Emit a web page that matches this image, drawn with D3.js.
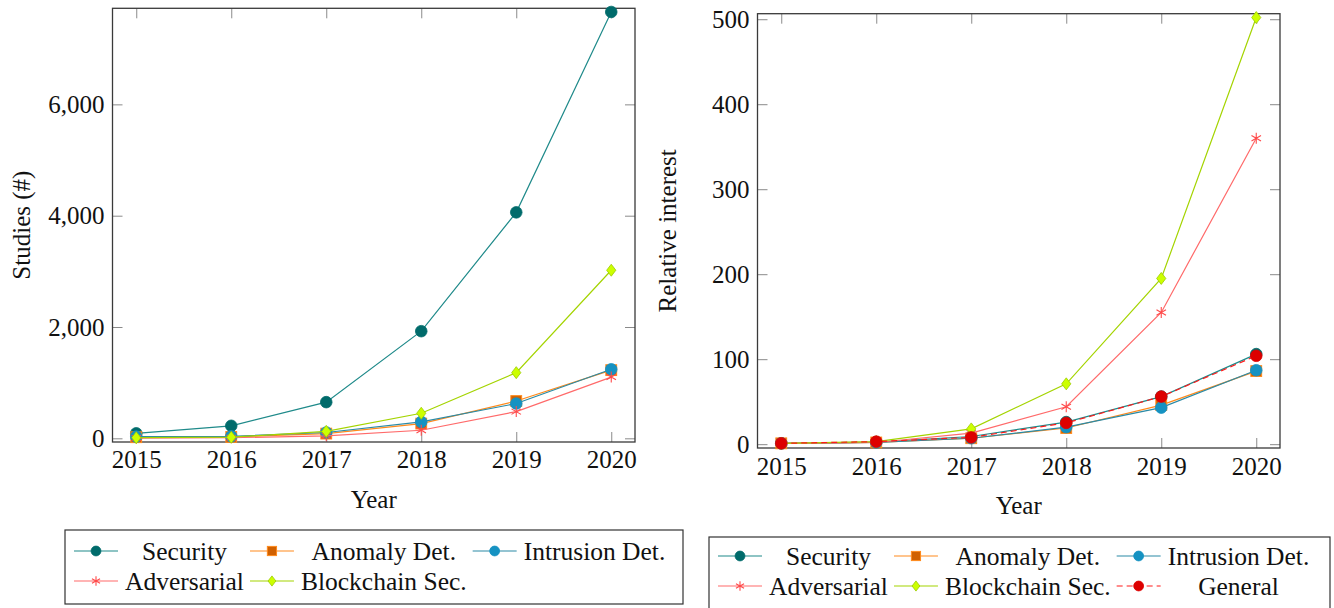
<!DOCTYPE html>
<html>
<head>
<meta charset="utf-8">
<script src="https://cdn.jsdelivr.net/npm/d3@7"></script>
<style>
  html, body { margin: 0; padding: 0; background: #fff; }
  svg { display: block; font-family: "Liberation Serif", "Times New Roman", serif; }
  .tick text { font-family: "Liberation Serif", "Times New Roman", serif; font-size: 25px; fill: #111; }
</style>
</head>
<body>
<svg id="chart" width="1334" height="608"></svg>
<script>
const years = [2015, 2016, 2017, 2018, 2019, 2020];

// left panel: number of studies
const securityStudies = [90, 225, 650, 1925, 4060, 7660];
const anomalyStudies = [20, 25, 85, 265, 670, 1225];
const intrusionStudies = [30, 35, 105, 295, 625, 1240];
const adversarialStudies = [5, 10, 45, 145, 480, 1100];
const blockchainStudies = [12, 20, 125, 450, 1180, 3020];

// right panel: relative interest
const securityInterest = [1, 2.5, 9, 26, 56, 106];
const anomalyInterest = [1, 2, 7, 19, 46, 86];
const intrusionInterest = [1, 2, 7, 20, 43, 87];
const adversarialInterest = [1, 2, 13, 44, 155, 360];
const blockchainInterest = [1, 3, 18, 71, 195, 502];
const generalInterest = [1, 3, 8, 25, 56, 104];

const leftYTicks = [0, 2000, 4000, 6000];
const rightYTicks = [0, 100, 200, 300, 400, 500];

const STYLES = {
  Security: { line: '#1f8a8a', fill: '#006b6b', stroke: '#006b6b', mark: 'circle' },
  'Anomaly Det.': { line: '#ff8a1c', fill: '#d06000', stroke: '#ff8a1c', mark: 'square' },
  'Intrusion Det.': { line: '#2a8aa6', fill: '#1592c2', stroke: '#1592c2', mark: 'circle' },
  Adversarial: { line: '#ff6a6a', fill: '#ff4a4a', stroke: '#ff4a4a', mark: 'star' },
  'Blockchain Sec.': { line: '#a4d400', fill: '#ccff00', stroke: '#9ccc00', mark: 'diamond' },
  General: { line: '#ff1a1a', fill: '#dd0000', stroke: '#dd0000', mark: 'circle', dash: '6,4' },
};

const svg = d3.select('#chart');

function drawMark(g, name, x, y, small) {
  const s = STYLES[name];
  const k = small ? 0.85 : 1;
  if (s.mark === 'circle') {
    g.append('circle').attr('cx', x).attr('cy', y).attr('r', 5.8 * k)
      .attr('fill', s.fill).attr('stroke', s.stroke).attr('stroke-width', 0.8);
  } else if (s.mark === 'square') {
    const h = 5.4 * k;
    g.append('rect').attr('x', x - h).attr('y', y - h).attr('width', 2 * h).attr('height', 2 * h)
      .attr('fill', s.fill).attr('stroke', s.stroke).attr('stroke-width', 1);
  } else if (s.mark === 'diamond') {
    const w = 4.6 * k, h = 6 * k;
    g.append('path').attr('d', `M${x},${y - h}L${x + w},${y}L${x},${y + h}L${x - w},${y}Z`)
      .attr('fill', s.fill).attr('stroke', s.stroke).attr('stroke-width', 0.8);
  } else if (s.mark === 'star') {
    const r = 5.5 * k;
    let d = '';
    for (let i = 0; i < 3; i++) {
      const a = Math.PI / 2 + i * Math.PI / 3;
      d += `M${x + r * Math.cos(a)},${y - r * Math.sin(a)}L${x - r * Math.cos(a)},${y + r * Math.sin(a)}`;
    }
    g.append('path').attr('d', d).attr('fill', 'none').attr('stroke', s.stroke).attr('stroke-width', 1.1);
  }
}

function drawPanel(cfg) {
  const { left, right, top, bottom } = cfg.box;
  const x = d3.scaleLinear().domain([2014.75, 2020.25]).range([left, right]);
  const y = d3.scaleLinear().domain(cfg.yDomain).range([bottom, top]);
  const g = svg.append('g');

  const tickStyle = (sel) => {
    sel.attr('font-family', null).attr('font-size', null);
    sel.select('.domain').remove();
    sel.selectAll('.tick line').attr('stroke', '#8a8a8a').attr('stroke-width', 1);
  };

  g.append('g').attr('transform', `translate(0,${bottom})`)
    .call(d3.axisBottom(x).tickValues(years).tickFormat(d3.format('d')).tickSizeInner(-10).tickSizeOuter(0).tickPadding(cfg.xPad))
    .call(tickStyle);
  g.append('g').attr('transform', `translate(0,${top})`)
    .call(d3.axisTop(x).tickValues(years).tickFormat('').tickSizeInner(-10).tickSizeOuter(0))
    .call(tickStyle);
  g.append('g').attr('transform', `translate(${left},0)`)
    .call(d3.axisLeft(y).tickValues(cfg.yTicks).tickFormat(cfg.yFormat).tickSizeInner(-10).tickSizeOuter(0).tickPadding(8))
    .call(tickStyle);
  g.append('g').attr('transform', `translate(${right},0)`)
    .call(d3.axisRight(y).tickValues(cfg.yTicks).tickFormat('').tickSizeInner(-10).tickSizeOuter(0))
    .call(tickStyle);

  g.append('rect').attr('x', left).attr('y', top).attr('width', right - left).attr('height', bottom - top)
    .attr('fill', 'none').attr('stroke', '#3a3a3a').attr('stroke-width', 1.3);

  g.append('text').attr('x', (left + right) / 2).attr('y', cfg.xLabelY)
    .attr('text-anchor', 'middle').attr('font-size', 25).attr('fill', '#111').text('Year');
  g.append('text').attr('transform', `translate(${cfg.yLabelX},${(top + bottom) / 2}) rotate(-90)`)
    .attr('text-anchor', 'middle').attr('font-size', 25).attr('fill', '#111').text(cfg.yLabel);

  const line = d3.line().x((d, i) => x(years[i])).y((d) => y(d));
  const seriesG = g.append('g');
  cfg.series.forEach(([name, values]) => {
    const s = STYLES[name];
    const sg = seriesG.append('g');
    sg.append('path').datum(values).attr('d', line).attr('fill', 'none')
      .attr('stroke', s.line).attr('stroke-width', 1.2).attr('stroke-dasharray', s.dash || null);
    values.forEach((v, i) => drawMark(sg, name, x(years[i]), y(v)));
  });

  // legend
  const lg = svg.append('g');
  const L = cfg.legend;
  lg.append('rect').attr('x', L.x).attr('y', L.y).attr('width', L.w).attr('height', L.h)
    .attr('fill', '#fff').attr('stroke', '#333').attr('stroke-width', 1.2);
  const names = cfg.series.map((d) => d[0]);
  const cols = 3;
  const texts = names.map((n) => lg.append('text').attr('font-size', 25.5).attr('fill', '#111')
    .attr('text-anchor', 'middle').attr('dominant-baseline', 'central').text(n));
  const colW = [];
  for (let c = 0; c < cols; c++) {
    let w = 0;
    names.forEach((n, i) => { if (i % cols === c) w = Math.max(w, texts[i].node().getComputedTextLength()); });
    colW.push(w);
  }
  let cx = L.x + 9;
  for (let c = 0; c < cols; c++) {
    names.forEach((n, i) => {
      if (i % cols !== c) return;
      const row = Math.floor(i / cols);
      const cy = L.y + L.rowY[row];
      const s = STYLES[n];
      lg.append('line').attr('x1', cx).attr('x2', cx + 44).attr('y1', cy).attr('y2', cy)
        .attr('stroke', s.line).attr('stroke-width', 1.2).attr('stroke-dasharray', s.dash || null);
      drawMark(lg, n, cx + 22, cy, true);
      texts[i].attr('x', cx + 51 + colW[c] / 2).attr('y', cy);
    });
    cx += 44 + 7 + colW[c] + 6;
  }
}

drawPanel({
  box: { left: 112.5, right: 635, top: 8.3, bottom: 442 },
  yDomain: [-66, 7726],
  yTicks: leftYTicks,
  yFormat: d3.format(','),
  xPad: 8,
  xLabelY: 508,
  yLabelX: 30,
  yLabel: 'Studies (#)',
  series: [
    ['Security', securityStudies],
    ['Anomaly Det.', anomalyStudies],
    ['Intrusion Det.', intrusionStudies],
    ['Adversarial', adversarialStudies],
    ['Blockchain Sec.', blockchainStudies],
  ],
  legend: { x: 65, y: 530, w: 618, h: 74, rowY: [21, 51] },
});

drawPanel({
  box: { left: 757.5, right: 1280, top: 13.7, bottom: 448 },
  yDomain: [-4.5, 506.5],
  yTicks: rightYTicks,
  yFormat: d3.format('d'),
  xPad: 9,
  xLabelY: 514,
  yLabelX: 676,
  yLabel: 'Relative interest',
  series: [
    ['Security', securityInterest],
    ['Anomaly Det.', anomalyInterest],
    ['Intrusion Det.', intrusionInterest],
    ['Adversarial', adversarialInterest],
    ['Blockchain Sec.', blockchainInterest],
    ['General', generalInterest],
  ],
  legend: { x: 709, y: 537, w: 621, h: 74, rowY: [19, 49] },
});
</script>
</body>
</html>
